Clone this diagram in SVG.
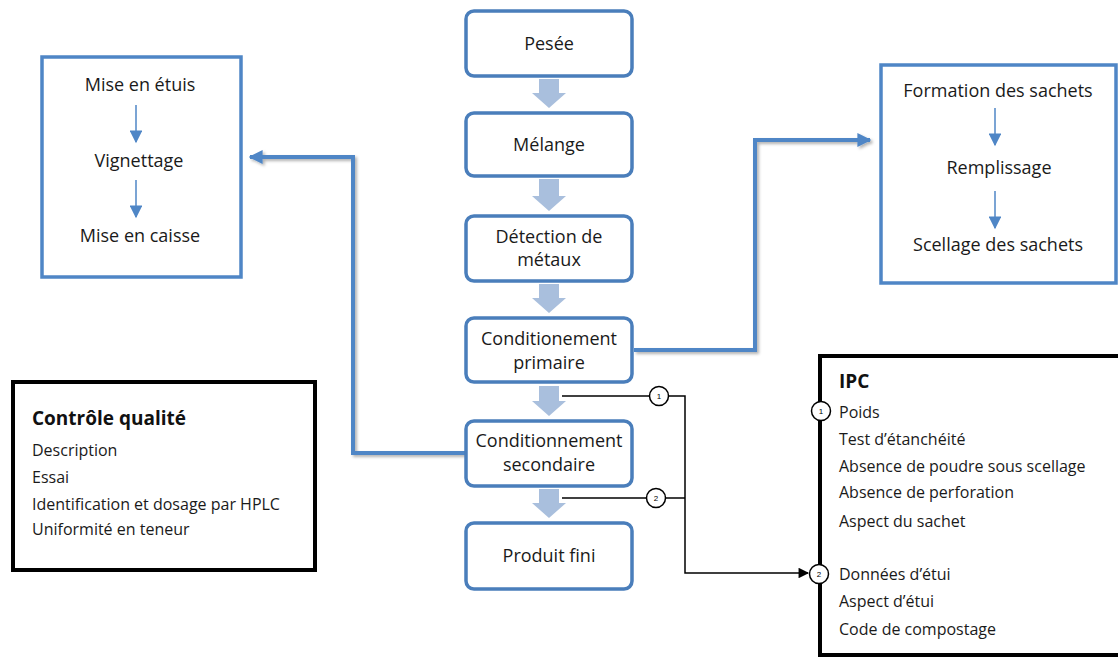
<svg xmlns="http://www.w3.org/2000/svg" width="1118" height="657" viewBox="0 0 1118 657">
<defs>
<style>
.step{fill:#fff;stroke:#4a7ebb;stroke-width:3.5}
.grp{fill:#fff;stroke:#4f86c6;stroke-width:3.5}
.box{fill:#fff;stroke:#000;stroke-width:4}
.t{font-family:"Open Sans","Liberation Sans",sans-serif;font-size:18px;fill:#1a1a1a}
.s{font-family:"Open Sans","Liberation Sans",sans-serif;font-size:16px;fill:#1a1a1a}
.b{font-family:"Open Sans","Liberation Sans",sans-serif;font-size:19px;font-weight:bold;fill:#111}
.n{font-family:"Liberation Sans",sans-serif;font-size:8px;fill:#000}
.blk{fill:#a9bfdd}
.conn{fill:none;stroke:#4f86c6;stroke-width:4}
.thin{fill:none;stroke:#4f86c6;stroke-width:1.5}
.bl{fill:none;stroke:#000;stroke-width:1.5}
.c{fill:#fff;stroke:#000;stroke-width:1.5}
</style>
<marker id="bluehead" viewBox="0 0 10 10" refX="9" refY="5" markerWidth="3.5" markerHeight="3.5" orient="auto" markerUnits="strokeWidth">
<path d="M0,0 L10,5 L0,10 z" fill="#4f86c6"/>
</marker>
<marker id="smallhead" viewBox="0 0 10 10" refX="9" refY="5" markerWidth="9" markerHeight="8.5" orient="auto" markerUnits="strokeWidth">
<path d="M0,0 L10,5 L0,10 z" fill="#4f86c6"/>
</marker>
<marker id="blackhead" viewBox="0 0 10 10" refX="9" refY="5" markerWidth="8" markerHeight="7" orient="auto" markerUnits="strokeWidth">
<path d="M0,0 L10,5 L0,10 z" fill="#000"/>
</marker>
<filter id="sh" x="-10%" y="-10%" width="120%" height="120%">
<feDropShadow dx="2" dy="2" stdDeviation="1.5" flood-color="#000" flood-opacity="0.3"/>
</filter>
</defs>

<g id="connectors">
<polygon class="blk" points="539,79 559,79 559,93 566,93 549,108 532,93 539,93"/>
<polygon class="blk" points="539,179 559,179 559,196 566,196 549,211 532,196 539,196"/>
<polygon class="blk" points="539,284 559,284 559,298 566,298 549,313 532,298 539,298"/>
<polygon class="blk" points="539,386 559,386 559,401 566,401 549,416 532,401 539,401"/>
<polygon class="blk" points="539,489 559,489 559,503 566,503 549,518 532,503 539,503"/>
<polyline class="conn" filter="url(#sh)" points="634,350 755,350 755,140 870,140" marker-end="url(#bluehead)"/>
<polyline class="conn" filter="url(#sh)" points="465,453 353,453 353,157 250,157" marker-end="url(#bluehead)"/>
<polyline class="bl" points="562,396 649,396"/>
<polyline class="bl" points="668,396 685,396 685,573 808,573" marker-end="url(#blackhead)"/>
<polyline class="bl" points="562,498 646,498"/>
<polyline class="bl" points="665,498 685,498"/>
</g>

<g id="pesee">
<rect class="step" x="466" y="11" width="166" height="65" rx="8"/>
<text class="t" x="549" y="50" text-anchor="middle">Pesée</text>
</g>
<g id="melange">
<rect class="step" x="466" y="113" width="166" height="63" rx="8"/>
<text class="t" x="549" y="151" text-anchor="middle">Mélange</text>
</g>
<g id="detection">
<rect class="step" x="466" y="216" width="166" height="65" rx="8"/>
<text class="t" x="549" y="243" text-anchor="middle">Détection de</text>
<text class="t" x="549" y="266" text-anchor="middle">métaux</text>
</g>
<g id="cond-primaire">
<rect class="step" x="466" y="318" width="166" height="64" rx="8"/>
<text class="t" x="549" y="345" text-anchor="middle">Conditionement</text>
<text class="t" x="549" y="369" text-anchor="middle">primaire</text>
</g>
<g id="cond-secondaire">
<rect class="step" x="466" y="421" width="166" height="65" rx="8"/>
<text class="t" x="549" y="447" text-anchor="middle">Conditionnement</text>
<text class="t" x="549" y="471" text-anchor="middle">secondaire</text>
</g>
<g id="produit-fini">
<rect class="step" x="466" y="523" width="166" height="66" rx="8"/>
<text class="t" x="549" y="562" text-anchor="middle">Produit fini</text>
</g>

<g id="secondaire-steps">
<rect class="grp" x="42" y="57" width="199" height="220"/>
<text class="t" x="140" y="91" text-anchor="middle">Mise en étuis</text>
<line class="thin" x1="136" y1="105" x2="136" y2="142" marker-end="url(#smallhead)"/>
<text class="t" x="139" y="167" text-anchor="middle">Vignettage</text>
<line class="thin" x1="136" y1="180" x2="136" y2="217" marker-end="url(#smallhead)"/>
<text class="t" x="140" y="242" text-anchor="middle">Mise en caisse</text>
</g>

<g id="primaire-steps">
<rect class="grp" x="881" y="65" width="235" height="218"/>
<text class="t" x="998" y="97" text-anchor="middle">Formation des sachets</text>
<line class="thin" x1="995" y1="108" x2="995" y2="145" marker-end="url(#smallhead)"/>
<text class="t" x="999" y="174" text-anchor="middle">Remplissage</text>
<line class="thin" x1="995" y1="191" x2="995" y2="228" marker-end="url(#smallhead)"/>
<text class="t" x="998" y="251" text-anchor="middle">Scellage des sachets</text>
</g>

<g id="controle-qualite">
<rect class="box" x="13" y="382" width="302" height="188"/>
<text class="b" x="32" y="425">Contrôle qualité</text>
<text class="s" x="32" y="456">Description</text>
<text class="s" x="32" y="483">Essai</text>
<text class="s" x="32" y="510">Identification et dosage par HPLC</text>
<text class="s" x="32" y="535">Uniformité en teneur</text>
</g>

<g id="ipc">
<rect class="box" x="820" y="356" width="310" height="299"/>
<text class="b" x="839" y="388">IPC</text>
<text class="s" x="839" y="418">Poids</text>
<text class="s" x="839" y="445">Test d’étanchéité</text>
<text class="s" x="839" y="472">Absence de poudre sous scellage</text>
<text class="s" x="839" y="498">Absence de perforation</text>
<text class="s" x="839" y="527">Aspect du sachet</text>
<text class="s" x="839" y="580">Données d’étui</text>
<text class="s" x="839" y="607">Aspect d’étui</text>
<text class="s" x="839" y="635">Code de compostage</text>
</g>

<g id="markers">
<circle class="c" cx="659" cy="396" r="9.5"/>
<text class="n" x="659" y="399" text-anchor="middle">1</text>
<circle class="c" cx="656" cy="498" r="9.5"/>
<text class="n" x="656" y="501" text-anchor="middle">2</text>
<circle class="c" cx="821" cy="411" r="9.5"/>
<text class="n" x="821" y="414" text-anchor="middle">1</text>
<circle class="c" cx="819" cy="574" r="9.5"/>
<text class="n" x="819" y="577" text-anchor="middle">2</text>
</g>
</svg>
